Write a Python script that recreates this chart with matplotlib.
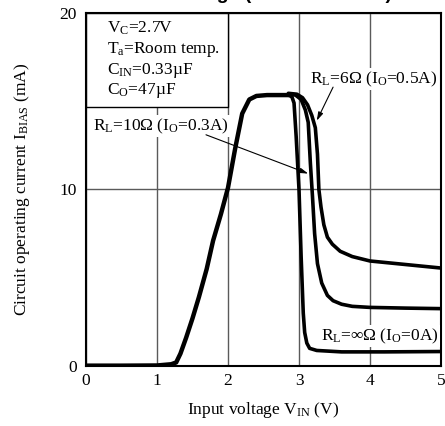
import numpy as np
import matplotlib
matplotlib.use("Agg")
import matplotlib.pyplot as plt
from matplotlib.patches import Rectangle

plt.rcParams['font.family'] = ['Liberation Serif', 'DejaVu Serif']
plt.rcParams['mathtext.fontset'] = 'custom'
plt.rcParams['mathtext.rm'] = 'Liberation Serif'
plt.rcParams['mathtext.it'] = 'Liberation Serif:italic'

# rising part shared by all three loads
v_rise = [0, 0.5, 1.0, 1.2, 1.27, 1.33, 1.41, 1.5, 1.59, 1.7, 1.79, 1.9, 2.0, 2.1, 2.2, 2.3, 2.4, 2.55, 2.7, 2.85]
i_rise = [0.02, 0.02, 0.03, 0.1, 0.2, 0.7, 1.6, 2.7, 3.9, 5.5, 7.1, 8.6, 10.1, 12.3, 14.3, 15.1, 15.3, 15.35, 15.35, 15.35]

# falling part, RL = infinity (IO = 0A)
v_inf = [2.85, 2.9, 2.93, 2.96, 3.0, 3.03, 3.06, 3.08, 3.11, 3.15, 3.25, 3.6, 4.2, 5.0]
i_inf = [15.35, 15.25, 14.9, 13.0, 10.0, 6.2, 3.0, 1.9, 1.3, 1.0, 0.88, 0.8, 0.8, 0.82]

# RL = 10 ohm (IO = 0.3A)
v_10 = [2.85, 2.95, 3.03, 3.09, 3.13, 3.16, 3.19, 3.22, 3.26, 3.32, 3.4, 3.48, 3.6, 3.75, 4.0, 4.5, 5.0]
i_10 = [15.4, 15.35, 15.1, 14.5, 13.8, 11.5, 9.6, 7.5, 5.8, 4.7, 4.0, 3.7, 3.5, 3.38, 3.32, 3.28, 3.25]

# RL = 6 ohm (IO = 0.5A)
v_6 = [2.85, 2.97, 3.05, 3.12, 3.18, 3.23, 3.26, 3.28, 3.31, 3.35, 3.4, 3.47, 3.58, 3.75, 4.0, 4.5, 5.0]
i_6 = [15.45, 15.4, 15.2, 14.8, 14.2, 13.5, 12.0, 10.0, 9.0, 8.0, 7.3, 6.9, 6.5, 6.2, 5.95, 5.75, 5.55]

x_ticks = [0, 1, 2, 3, 4, 5]
y_ticks = [0, 10, 20]

fig = plt.figure(figsize=(4.45, 4.26), dpi=100)
ax = fig.add_axes([86 / 445, 1 - 366 / 426, 355 / 445, 353 / 426])

ax.plot(v_rise, i_rise, color='black', lw=3.2, solid_joinstyle='round',
        solid_capstyle='round', zorder=4)
for v_fall, i_fall in [(v_inf, i_inf), (v_10, i_10), (v_6, i_6)]:
    ax.plot(v_fall, i_fall, color='black', lw=2.6,
            solid_joinstyle='round', solid_capstyle='round', zorder=4)

ax.set_xlim(0, 5)
ax.set_ylim(0, 20)
ax.set_xticks(x_ticks)
ax.set_yticks(y_ticks)
ax.tick_params(axis='x', length=0, labelsize=12.5, pad=5)
ax.tick_params(axis='y', length=0, labelsize=12.5, pad=6.5)
ax.grid(True, color='#5a5a5a', lw=1.0, zorder=1)
ax.set_axisbelow(True)
for s in ax.spines.values():
    s.set_linewidth(1.5)

# conditions box in the upper left corner
ax.add_patch(Rectangle((0, 14.7), 2, 5.3, facecolor='white', edgecolor='black', lw=1.0, zorder=2))
cond = ['V$_\\mathrm{C}$=2.7V', 'T$_\\mathrm{a}$=Room temp.',
        'C$_\\mathrm{IN}$=0.33µF', 'C$_\\mathrm{O}$=47µF']
for k, t in enumerate(cond):
    ax.text(0.29, 18.87 - k * 1.16, t, fontsize=12.5, va='baseline', ha='left', zorder=3)

bg = dict(facecolor='white', edgecolor='none', pad=1)
ax.text(0.1, 13.37, 'R$_\\mathrm{L}$=10Ω (I$_\\mathrm{O}$=0.3A)', fontsize=12.5,
        va='baseline', ha='left', bbox=bg, zorder=3)
ax.text(3.15, 16.03, 'R$_\\mathrm{L}$=6Ω (I$_\\mathrm{O}$=0.5A)', fontsize=12.5,
        va='baseline', ha='left', bbox=bg, zorder=3)
ax.text(3.31, 1.47, 'R$_\\mathrm{L}$=∞Ω (I$_\\mathrm{O}$=0A)', fontsize=12.5,
        va='baseline', ha='left', bbox=bg, zorder=3)

arrow = dict(arrowstyle='-|>,head_length=0.5,head_width=0.15', color='black', lw=0.8,
             shrinkA=0, shrinkB=0)
ax.annotate('', xy=(3.13, 10.9), xytext=(1.69, 13.1), arrowprops=arrow, zorder=5)
ax.annotate('', xy=(3.25, 13.9), xytext=(3.48, 15.8), arrowprops=arrow, zorder=5)

ax.set_xlabel('Input voltage V$_\\mathrm{IN}$ (V)', fontsize=12.5, labelpad=8)
ax.set_ylabel('Circuit operating current I$_\\mathrm{BIAS}$ (mA)', fontsize=12.5, labelpad=20)

# title, mostly cut off at the top edge of the image
fig.text(392 / 445, 1.0023, 'Circuit Current vs. Voltage (Load Variation)',
         ha='right', va='baseline', fontsize=14, fontweight='bold',
         family='Liberation Sans')

fig.savefig('out.png', dpi=100)
